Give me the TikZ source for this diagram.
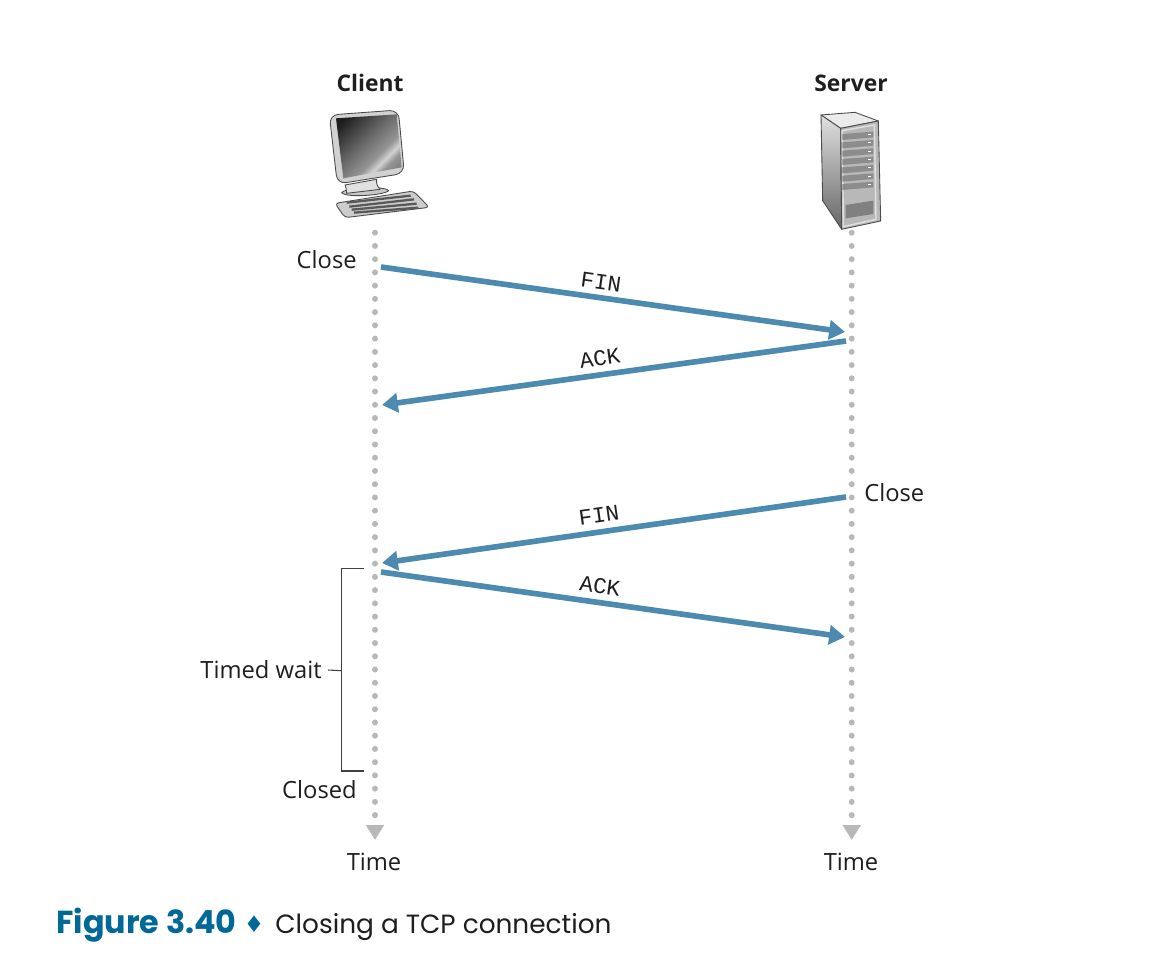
\documentclass[tikz,border=0pt]{standalone}
\usepackage{fontspec}
\setmainfont{Open Sans}
\newfontfamily\codefont{Liberation Mono}
\newfontfamily\capfont{Poppins}
\newfontfamily\symfont{DejaVu Sans}
\usetikzlibrary{arrows.meta,positioning,calc}
\definecolor{segBlue}{RGB}{77,138,176}
\definecolor{dotGray}{RGB}{184,184,184}
\definecolor{capBlue}{RGB}{0,104,150}
\definecolor{inkDark}{RGB}{30,30,32}
\pgfdeclareverticalshading{screenshade}{100bp}{color(0bp)=(black!90); color(22bp)=(black!88); color(46bp)=(black!58); color(60bp)=(black!42); color(66bp)=(black!18); color(71bp)=(black!42); color(100bp)=(black!72)}
\begin{document}
\begin{tikzpicture}[
      x=0.02cm, y=-0.02cm,
      label/.style={font=\fontsize{13.5}{16}\selectfont, text=inkDark, inner sep=0pt},
      host/.style={font=\fontsize{13.0}{16}\selectfont\bfseries, text=inkDark, inner sep=0pt},
      segtext/.style={font=\fontsize{12.8}{15}\selectfont\codefont, text=inkDark, inner sep=0pt},
      segment/.style={-{Triangle[length=9pt,width=10.8pt]}, line width=3.2pt, segBlue},
      lifeline/.style={dotGray, line width=3.4pt, line cap=round, dash pattern=on 0pt off 7.534pt,
        -{Triangle[length=8.5pt,width=9.8pt,fill=dotGray,line cap=butt]}},
      bracket/.style={line width=0.6pt, black!75},
      body/.style={draw=black!70, line width=0.5pt, line join=round}
    ]
      \useasboundingbox (0,0) rectangle (1176,974);
      \fill[white] (0,0) rectangle (1176,974);

      % hosts
      \node[host] (client) at (370,83) {Client};
      \node[host] (server) at (851,83) {Server};

      % desktop computer
      \begin{scope}[shift={(300,60)}, x=0.006667cm, y=-0.006667cm]
        \fill[body, fill=black!22] (125,398) .. controls (130,385) and (250,375) .. (266,392) .. controls (255,405) and (140,415) .. (125,398) -- cycle;
        \fill[body, fill=black!12] (135,375) -- (230,358) .. controls (228,375) and (235,382) .. (240,388) -- (140,400) .. controls (140,390) and (138,382) .. (135,375) -- cycle;
        \fill[body, fill=black!18, rounded corners=5pt] (88,165) -- (295,150) -- (313,340) -- (112,372) -- cycle;
        \shade[shading=screenshade, shading angle=225] (108,175) -- (290,163) -- (305,322) -- (130,355) -- cycle;
        \fill[body, fill=black!20, rounded corners=2pt] (105,430) -- (340,393) -- (388,442) -- (135,473) -- cycle;
        \draw[black!65, line width=1.3pt] (140,428) -- (332,407) (148,440) -- (342,418) (155,449) -- (350,431) (162,458) -- (355,443);
      \end{scope}

      % server tower
      \begin{scope}[shift={(790,60)}, x=0.006667cm, y=-0.006667cm]
        \fill[body, fill=black!8] (93,165) -- (195,157) -- (265,183) -- (152,205) -- cycle;
        \shade[body, top color=black!12, bottom color=black!60] (93,165) -- (152,205) -- (155,508) -- (98,422) -- cycle;
        \fill[body, fill=black!28] (152,205) -- (265,183) -- (272,483) -- (155,508) -- cycle;
        \draw[black!12, line width=0.8pt] (157,212) -- (253,195) -- (258,478) -- (160,500) -- cycle;
        \foreach \i in {0,...,6} {
          \fill[black!45] (157,222+\i*25) -- (250,215+\i*25) -- (250,232+\i*25) -- (157,240+\i*25) -- cycle;
          \fill[white] (234,222+\i*25) rectangle (244,225+\i*25);
        }
        \fill[black!50] (167,435) -- (250,422) -- (250,462) -- (167,475) -- cycle;
      \end{scope}

      % time lines
      \coordinate (ctop) at (375,232.7);
      \coordinate (cend) at (375,840);
      \coordinate (stop) at (851.7,232.7);
      \coordinate (send) at (851.7,840);
      \draw[lifeline] (ctop) -- (cend);
      \draw[lifeline] (stop) -- (send);
      \node[label] (ctime) at (374,862) {Time};
      \node[label] (stime) at (851,862) {Time};

      % segments
      \coordinate (fina) at (381,267);
      \coordinate (finb) at (845,332);
      \coordinate (acka) at (846,341);
      \coordinate (ackb) at (382,405);
      \coordinate (finc) at (846,497);
      \coordinate (find) at (382,563);
      \coordinate (ackc) at (381,572);
      \coordinate (ackd) at (845,637);
      \draw[segment] (fina) -- (finb);
      \draw[segment] (acka) -- (ackb);
      \draw[segment] (finc) -- (find);
      \draw[segment] (ackc) -- (ackd);
      \node[segtext, rotate=-8] (fintop) at (601,282) {FIN};
      \node[segtext, rotate=8] (acktop) at (600,358) {ACK};
      \node[segtext, rotate=8] (finlow) at (599,515) {FIN};
      \node[segtext, rotate=-8] (acklow) at (600,586) {ACK};

      % states
      \node[label, anchor=east] (cclose) at (357,260) {Close};
      \node[label, anchor=west] (sclose) at (864,493) {Close};
      \node[label, anchor=east] (closed) at (357,790) {Closed};
      \node[label, anchor=east] (wait) at (322,670) {Timed wait};

      % timed wait bracket
      \coordinate (wtop) at (364,568.3);
      \coordinate (wbot) at (364,771);
      \coordinate (wmid) at (341.7,670.7);
      \draw[bracket] (wtop) -- (wtop -| wmid) -- (wbot -| wmid) -- (wbot);
      \draw[bracket] ($(wait.east)+(6,0)$) -- (wmid);

      % caption
      \node[anchor=base west, inner sep=0pt, text=capBlue, font=\fontsize{18.1}{20}\capfont\bfseries] (fignum) at (56,933) {Figure 3.40};
      \node[anchor=base, inner sep=0pt, text=capBlue, font=\fontsize{13}{14}\symfont] (figsep) at (254,932) {♦};
      \node[anchor=base west, inner sep=0pt, text=inkDark, font=\fontsize{15}{20}\capfont] (figtext) at (275,933) {Closing a TCP connection};
    \end{tikzpicture}
\end{document}
